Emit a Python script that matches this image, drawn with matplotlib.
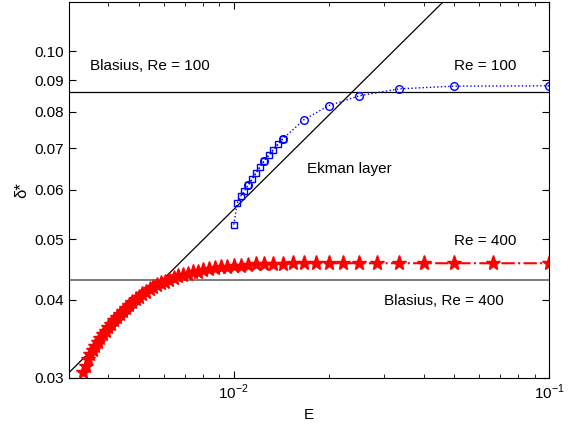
import matplotlib
matplotlib.use('Agg')
import matplotlib.pyplot as plt
from matplotlib.ticker import NullFormatter, NullLocator, LogLocator

plt.rcParams['font.family'] = ['Liberation Sans', 'DejaVu Sans']
plt.rcParams['font.size'] = 11
plt.rcParams['mathtext.fontset'] = 'custom'
plt.rcParams['mathtext.rm'] = 'Liberation Sans'

# Re = 400, Sterne (E = 1/N, N = 300 ... 10)
re400_E = [0.003333, 0.003390, 0.003448, 0.003509, 0.003571, 0.003636, 0.003704,
           0.003774, 0.003846, 0.003922, 0.004000, 0.004082, 0.004167, 0.004255,
           0.004348, 0.004444, 0.004545, 0.004651, 0.004762, 0.004878, 0.005000,
           0.005128, 0.005263, 0.005405, 0.005556, 0.005714, 0.005882, 0.006061,
           0.006250, 0.006452, 0.006667, 0.006897, 0.007143, 0.007407, 0.007692,
           0.008000, 0.008333, 0.008696, 0.009091, 0.009524, 0.010000, 0.010526,
           0.011111, 0.011765, 0.012500, 0.013333, 0.014286, 0.015385, 0.016667,
           0.018182, 0.020000, 0.022222, 0.025000, 0.028571, 0.033333, 0.040000,
           0.050000, 0.066667, 0.100000]
re400_delta = [0.0307, 0.0314, 0.0322, 0.0328, 0.0333, 0.0338, 0.0343,
               0.0348, 0.0353, 0.0357, 0.0362, 0.0366, 0.0371, 0.0376,
               0.0380, 0.0384, 0.0389, 0.0393, 0.0397, 0.0401, 0.0405,
               0.0409, 0.0412, 0.0416, 0.0419, 0.0423, 0.0426, 0.0428,
               0.0431, 0.0434, 0.0437, 0.0439, 0.0441, 0.0443, 0.0444,
               0.0446, 0.0448, 0.0450, 0.0451, 0.0452, 0.0453, 0.0454,
               0.0455, 0.0456, 0.0456, 0.0457, 0.0457, 0.0458, 0.0458,
               0.0458, 0.0458, 0.0458, 0.0458, 0.0458, 0.0458, 0.0458,
               0.0458, 0.0458, 0.0458]

# Re = 100, Kreise
re100_circ_E = [0.1, 0.05, 0.03333, 0.025, 0.02, 0.01667, 0.01429, 0.0125, 0.01111]
re100_circ_delta = [0.0881, 0.0880, 0.0871, 0.0849, 0.0819, 0.0777, 0.0724, 0.0668, 0.0611]

# Re = 100, Quadrate
re100_sq_E = [0.01, 0.01026, 0.01053, 0.01081, 0.01111, 0.01143, 0.01176,
              0.01212, 0.0125, 0.0129, 0.01333, 0.01379, 0.01429]
re100_sq_delta = [0.0528, 0.0572, 0.0587, 0.0598, 0.0611, 0.0625, 0.0639,
                  0.0654, 0.0668, 0.0683, 0.0696, 0.0711, 0.0724]

# Theorie: Ekman-Schicht und Blasius
ekman_E = [0.003, 0.1]
ekman_delta = [0.0306, 0.1767]
blasius_E = [0.003, 0.1]
blasius_re100 = 0.0862
blasius_re400 = 0.0430

y_ticks = [0.03, 0.04, 0.05, 0.06, 0.07, 0.08, 0.09, 0.10]

fig = plt.figure(figsize=(5.73, 4.25), dpi=100)
ax = fig.add_axes([0.1204, 0.1106, 0.8376, 0.8847])

ax.plot(ekman_E, ekman_delta, color='k', lw=0.9)
ax.plot(blasius_E, [blasius_re100, blasius_re100], color='k', lw=0.9)
ax.plot(blasius_E, [blasius_re400, blasius_re400], color='0.4', lw=1.2)

ax.plot(re100_sq_E, re100_sq_delta, ':', color='b', lw=1, marker='s',
        ms=4.5, mfc='none', mec='b', mew=1)
ax.plot(re100_circ_E, re100_circ_delta, ':', color='b', lw=1, marker='o',
        ms=5.5, mfc='none', mec='b', mew=1)
ax.plot(re400_E, re400_delta, '-.', color='r', lw=1.5, marker='*', ms=11,
        mfc='r', mec='r')

ax.set_xscale('log')
ax.set_yscale('log')
ax.set_xlim(0.003, 0.1)
ax.set_ylim(0.03, 0.12)

ax.set_yticks(y_ticks)
ax.set_yticklabels(['%.2f' % v for v in y_ticks])
ax.yaxis.set_minor_formatter(NullFormatter())
ax.yaxis.set_minor_locator(NullLocator())
ax.set_xticks([0.01, 0.1])
ax.set_xticklabels([r'$10^{-2}$', r'$10^{-1}$'])
ax.xaxis.set_minor_locator(LogLocator(base=10, subs=range(2, 10)))
ax.xaxis.set_minor_formatter(NullFormatter())
ax.tick_params(which='both', direction='in', top=True, right=True, labelsize=11)
ax.tick_params(which='major', length=5)
ax.tick_params(which='minor', length=3)

ax.text(0.00351, 0.0949, 'Blasius, Re = 100', va='center', ha='left')
ax.text(0.0499, 0.0949, 'Re = 100', va='center', ha='left')
ax.text(0.01705, 0.0649, 'Ekman layer', va='center', ha='left')
ax.text(0.0499, 0.0497, 'Re = 400', va='center', ha='left')
ax.text(0.0299, 0.0398, 'Blasius, Re = 400', va='center', ha='left')

ax.set_xlabel('E')
ax.set_ylabel('δ*', fontsize=12)

fig.savefig('out.png', dpi=100)
